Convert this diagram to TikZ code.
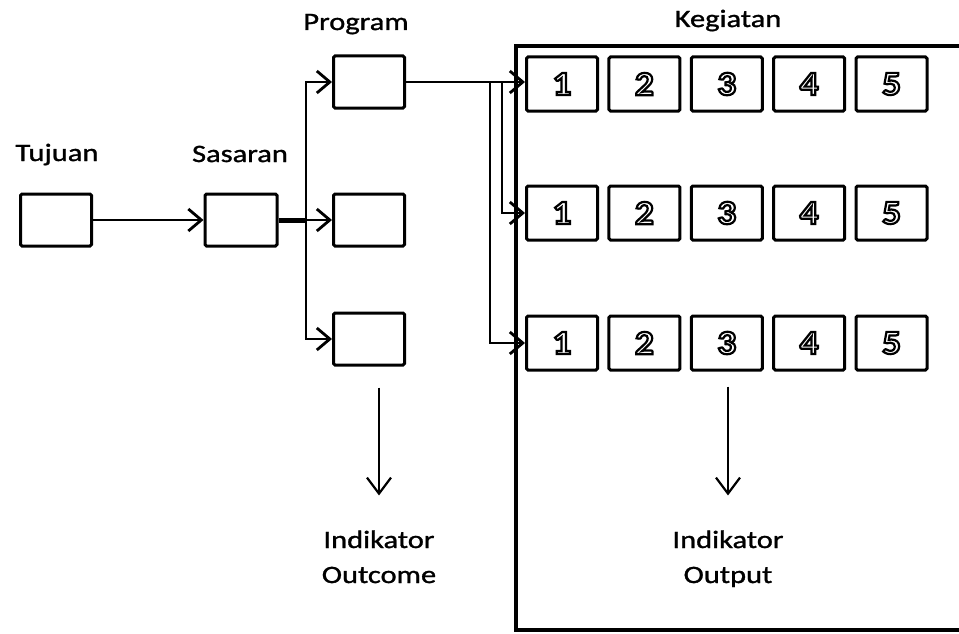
\documentclass[tikz,border=0pt]{standalone}
\usepackage{fontspec}
\setmainfont{Carlito}[FakeStretch=1.22, FakeBold=1.2]
\newfontfamily\digitfont{Carlito}[FakeStretch=1.1]
\usetikzlibrary{positioning, arrows.meta, calc}
% white digit with a black outline (text render mode 2)
\newcommand{\hollow}[1]{\special{pdf:literal direct 0 G 2.2 w 2 Tr}#1\special{pdf:literal direct 0 Tr}}
\tikzstyle{box}=[draw, line width=3pt, rounded corners=1.5pt, minimum width=71pt, minimum height=52pt, inner sep=0pt]
\tikzstyle{kbox}=[box, minimum height=54pt, text=white, font=\digitfont\fontsize{34}{34}\selectfont\bfseries]
\tikzstyle{lbl}=[anchor=base, inner sep=0pt, align=center, font=\fontsize{25}{35}\selectfont]
\tikzstyle{conn}=[line width=2.8pt, -{Straight Barb[length=13pt,width=22pt,line width=2.8pt]}]
\tikzstyle{ind}=[line width=2.2pt, -{Straight Barb[length=16pt,width=24pt,line width=2.2pt]}]

\begin{document}
\begin{tikzpicture}[x=1pt, y=-1pt]
        \useasboundingbox (0,0) rectangle (959,634);

        % Tujuan
        \node[lbl] (tujuanlbl) at (57,161) {Tujuan};
        \node[box] (tujuan) at (56,220) {};

        % Sasaran
        \node[lbl] (sasaranlbl) at (240,162) {Sasaran};
        \node[box, minimum width=72pt] (sasaran) at (241,220) {};

        % Program
        \node[lbl] (programlbl) at (356,30) {Program};
        \node[box] (prog1) at (369,82) {};
        \node[box] (prog2) at (369,220) {};
        \node[box] (prog3) at (369,339) {};

        % Kegiatan frame, open to the right
        \node[lbl] (kegiatanlbl) at (728,27) {Kegiatan};
        \draw[line width=4.5pt] (962,46) -- (516,46) -- (516,630) -- (962,630);
        \foreach \r/\y in {1/84,2/213,3/343}
          \foreach \c in {1,...,5}
            \node[kbox] (keg\r\c) at ({562+82.4*(\c-1)},\y) {\hollow{\c}};

        % Indikator
        \node[lbl] (outcome) at (379,583) {Indikator\\Outcome};
        \node[lbl] (output) at (728,583) {Indikator\\Output};

        % branch points
        \coordinate (bus) at (306,220);
        \coordinate (split1) at (490,82);
        \coordinate (split2) at (502,82);

        \draw[conn] (tujuan) -- (sasaran);
        \draw[line width=5pt] (sasaran) -- (bus);
        \draw[conn] (bus) |- (prog1);
        \draw[conn] (bus) -- (prog2);
        \draw[conn] (bus) |- (prog3);

        \draw[conn] (prog1.east) -- (prog1.east -| keg11.west);
        \draw[conn] (split2) |- (keg21);
        \draw[conn] (split1) |- (keg31);

        \draw[ind, shorten <=21pt, shorten >=35pt] (prog3.south -| outcome.north) -- (outcome.north);
        \draw[ind, shorten <=15pt, shorten >=35pt] (keg33.south -| output.north) -- (output.north);
\end{tikzpicture}
\end{document}
